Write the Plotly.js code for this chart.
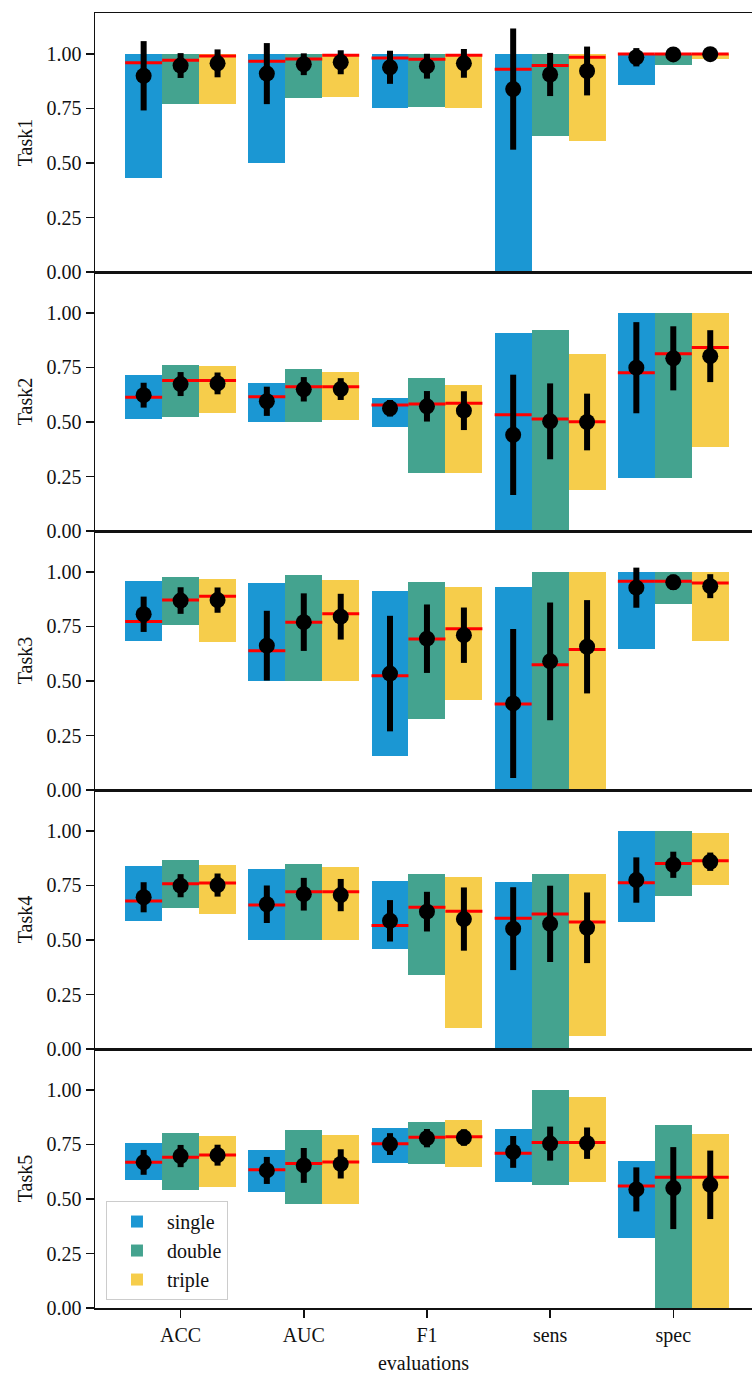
<!DOCTYPE html>
<html>
<head>
<meta charset="utf-8">
<script src="https://cdn.plot.ly/plotly-3.0.1.min.js"></script>
<style>html,body{margin:0;padding:0;background:#fff;}#chart{width:752px;height:1374px;}</style>
</head>
<body>
<div id="chart"></div>
<script>
// ---------------- DATA ----------------
const metrics = ['ACC', 'AUC', 'F1', 'sens', 'spec'];
const groups = ['single', 'double', 'triple'];
const taskNames = ['Task1', 'Task2', 'Task3', 'Task4', 'Task5'];

// each array: [single[], double[], triple[]], metric order ACC, AUC, F1, sens, spec
const task1_max = [[1.00, 1.00, 1.00, 1.00, 1.00], [1.00, 1.00, 1.00, 1.00, 1.00], [1.00, 1.00, 1.00, 1.00, 1.00]];
const task1_min = [[0.430, 0.502, 0.751, 0.000, 0.856], [0.772, 0.798, 0.757, 0.622, 0.951], [0.772, 0.802, 0.751, 0.600, 0.977]];
const task1_median = [[0.960, 0.967, 0.982, 0.930, 1.000], [0.971, 0.977, 0.976, 0.947, 1.000], [0.991, 0.994, 0.994, 0.985, 1.000]];
const task1_mean = [[0.900, 0.910, 0.939, 0.839, 0.985], [0.947, 0.953, 0.944, 0.906, 0.998], [0.957, 0.962, 0.957, 0.922, 0.999]];
const task1_sd = [[0.159, 0.140, 0.076, 0.278, 0.042], [0.057, 0.050, 0.057, 0.099, 0.005], [0.064, 0.055, 0.066, 0.112, 0.004]];

const task2_max = [[0.715, 0.679, 0.609, 0.907, 1.000], [0.761, 0.744, 0.700, 0.922, 1.000], [0.756, 0.728, 0.668, 0.813, 1.000]];
const task2_min = [[0.516, 0.501, 0.476, 0.000, 0.242], [0.524, 0.501, 0.266, 0.000, 0.242], [0.542, 0.510, 0.266, 0.190, 0.384]];
const task2_median = [[0.613, 0.616, 0.578, 0.533, 0.726], [0.690, 0.662, 0.583, 0.514, 0.813], [0.690, 0.662, 0.586, 0.501, 0.842]];
const task2_mean = [[0.623, 0.595, 0.563, 0.441, 0.749], [0.674, 0.650, 0.572, 0.503, 0.792], [0.677, 0.651, 0.552, 0.500, 0.802]];
const task2_sd = [[0.057, 0.067, 0.038, 0.276, 0.209], [0.055, 0.056, 0.070, 0.174, 0.147], [0.050, 0.050, 0.089, 0.130, 0.119]];

const task3_max = [[0.960, 0.948, 0.912, 0.930, 1.000], [0.976, 0.985, 0.953, 1.000, 1.000], [0.968, 0.965, 0.930, 1.000, 1.000]];
const task3_min = [[0.685, 0.502, 0.158, 0.000, 0.645], [0.758, 0.502, 0.326, 0.000, 0.855], [0.677, 0.502, 0.412, 0.000, 0.685]];
const task3_median = [[0.773, 0.639, 0.524, 0.394, 0.957], [0.872, 0.770, 0.693, 0.574, 0.957], [0.889, 0.808, 0.740, 0.644, 0.950]];
const task3_mean = [[0.806, 0.662, 0.534, 0.397, 0.928], [0.869, 0.770, 0.694, 0.590, 0.953], [0.871, 0.795, 0.710, 0.657, 0.935]];
const task3_sd = [[0.081, 0.160, 0.265, 0.342, 0.092], [0.061, 0.132, 0.157, 0.270, 0.035], [0.058, 0.105, 0.127, 0.214, 0.055]];

const task4_max = [[0.840, 0.825, 0.772, 0.764, 1.000], [0.868, 0.848, 0.805, 0.801, 1.000], [0.846, 0.836, 0.788, 0.801, 0.991]];
const task4_min = [[0.589, 0.502, 0.457, 0.000, 0.583], [0.648, 0.502, 0.339, 0.000, 0.702], [0.621, 0.498, 0.097, 0.059, 0.752]];
const task4_median = [[0.679, 0.661, 0.566, 0.600, 0.763], [0.758, 0.721, 0.650, 0.619, 0.851], [0.761, 0.721, 0.632, 0.583, 0.863]];
const task4_mean = [[0.696, 0.664, 0.588, 0.552, 0.775], [0.749, 0.710, 0.630, 0.574, 0.845], [0.752, 0.706, 0.596, 0.556, 0.859]];
const task4_sd = [[0.069, 0.086, 0.095, 0.190, 0.104], [0.053, 0.075, 0.091, 0.175, 0.060], [0.053, 0.074, 0.145, 0.162, 0.042]];

const task5_max = [[0.759, 0.727, 0.827, 0.821, 0.676], [0.805, 0.815, 0.853, 1.000, 0.840], [0.791, 0.795, 0.863, 0.966, 0.798]];
const task5_min = [[0.586, 0.533, 0.666, 0.580, 0.319], [0.540, 0.476, 0.660, 0.565, 0.000], [0.553, 0.476, 0.649, 0.580, 0.000]];
const task5_median = [[0.669, 0.634, 0.753, 0.710, 0.560], [0.692, 0.663, 0.783, 0.759, 0.600], [0.702, 0.670, 0.786, 0.759, 0.600]];
const task5_mean = [[0.668, 0.631, 0.752, 0.716, 0.544], [0.697, 0.654, 0.779, 0.754, 0.550], [0.701, 0.661, 0.782, 0.756, 0.565]];
const task5_sd = [[0.057, 0.062, 0.050, 0.073, 0.101], [0.051, 0.080, 0.042, 0.078, 0.188], [0.048, 0.067, 0.038, 0.072, 0.157]];

const yTickVals = [0, 0.25, 0.5, 0.75, 1.0];
const yTickText = ['0.00', '0.25', '0.50', '0.75', '1.00'];

// ---------------- STYLE ----------------
const colors = ['#1b97d3', '#44a38f', '#f6cd4b'];
const FONT = '"Liberation Serif", "Times New Roman", serif';
const FS = 20;
const barW = 0.3;

const tasks = [
  {max: task1_max, min: task1_min, med: task1_median, mean: task1_mean, sd: task1_sd},
  {max: task2_max, min: task2_min, med: task2_median, mean: task2_mean, sd: task2_sd},
  {max: task3_max, min: task3_min, med: task3_median, mean: task3_mean, sd: task3_sd},
  {max: task4_max, min: task4_min, med: task4_median, mean: task4_mean, sd: task4_sd},
  {max: task5_max, min: task5_min, med: task5_median, mean: task5_mean, sd: task5_sd}
];

const xIdx = metrics.map((m, i) => i);
const traces = [];
tasks.forEach((t, ti) => {
  const ax = ti === 0 ? '' : String(ti + 1);
  groups.forEach((g, gi) => {
    traces.push({
      type: 'bar',
      name: g,
      legendgroup: g,
      showlegend: ti === 0,
      x: xIdx.map(i => i + (gi - 1) * barW),
      y: t.max[gi].map((v, i) => v - t.min[gi][i]),
      base: t.min[gi],
      width: barW,
      marker: {color: colors[gi], line: {width: 0}},
      xaxis: 'x' + ax, yaxis: 'y' + ax,
      hoverinfo: 'skip'
    });
  });
  const mx = [], my = [], ex = [], ey = [], es = [];
  groups.forEach((g, gi) => {
    xIdx.forEach(i => {
      mx.push(i + (gi - 1) * barW); my.push(t.med[gi][i]);
      ex.push(i + (gi - 1) * barW); ey.push(t.mean[gi][i]); es.push(t.sd[gi][i]);
    });
  });
  // median lines (line-ew spans 1.4 * size px)
  traces.push({
    type: 'scatter', mode: 'markers', showlegend: false,
    x: mx, y: my,
    marker: {symbol: 'line-ew', size: 26.4, color: 'red', line: {color: 'red', width: 3}},
    xaxis: 'x' + ax, yaxis: 'y' + ax, hoverinfo: 'skip', cliponaxis: false
  });
  // means with std error bars
  traces.push({
    type: 'scatter', mode: 'markers', showlegend: false,
    x: ex, y: ey,
    error_y: {type: 'data', array: es, visible: true, color: 'black', thickness: 6, width: 0},
    marker: {symbol: 'circle', size: 16, color: 'black'},
    xaxis: 'x' + ax, yaxis: 'y' + ax, hoverinfo: 'skip', cliponaxis: false
  });
});

const layout = {
  width: 752, height: 1374,
  margin: {l: 95, r: 0, t: 13, b: 66},
  paper_bgcolor: 'white', plot_bgcolor: 'white',
  font: {family: FONT, size: FS, color: '#111'},
  showlegend: true,
  bargap: 0,
  legend: {
    x: 0.0167, y: 0.0826, xanchor: 'left', yanchor: 'top',
    bgcolor: 'rgba(255,255,255,0.85)', bordercolor: '#cccccc', borderwidth: 1,
    font: {family: FONT, size: FS, color: '#111'},
    tracegroupgap: 0, itemwidth: 50
  }
};

for (let ti = 0; ti < 5; ti++) {
  const ax = ti === 0 ? '' : String(ti + 1);
  const top = (5 - ti) / 5, bot = (4 - ti) / 5;
  const isBottom = ti === 4;
  layout['xaxis' + ax] = {
    domain: [0, 1], anchor: 'y' + ax,
    range: [-0.695, 4.639],
    tickmode: 'array', tickvals: xIdx, ticktext: metrics,
    showticklabels: isBottom,
    ticks: isBottom ? 'outside' : '', ticklen: 8, tickwidth: 1.5, tickcolor: '#111',
    showline: true, mirror: true, linecolor: '#111', linewidth: 1.5,
    showgrid: false, zeroline: false,
    tickfont: {family: FONT, size: FS, color: '#111'},
    title: isBottom ? {text: 'evaluations', font: {family: FONT, size: FS, color: '#111'}, standoff: 10} : {text: ''}
  };
  layout['yaxis' + ax] = {
    domain: [bot, top], anchor: 'x' + ax,
    range: [0, 1.188],
    tickmode: 'array', tickvals: yTickVals, ticktext: yTickText,
    ticks: 'outside', ticklen: 8, tickwidth: 1.5, tickcolor: '#111',
    showline: true, mirror: false, linecolor: '#111', linewidth: 1.5,
    showgrid: false, zeroline: false,
    tickfont: {family: FONT, size: FS, color: '#111'},
    title: {text: taskNames[ti], font: {family: FONT, size: FS, color: '#111'}, standoff: 8}
  };
}

Plotly.newPlot('chart', traces, layout, {displayModeBar: false, staticPlot: true});
</script>
</body>
</html>
